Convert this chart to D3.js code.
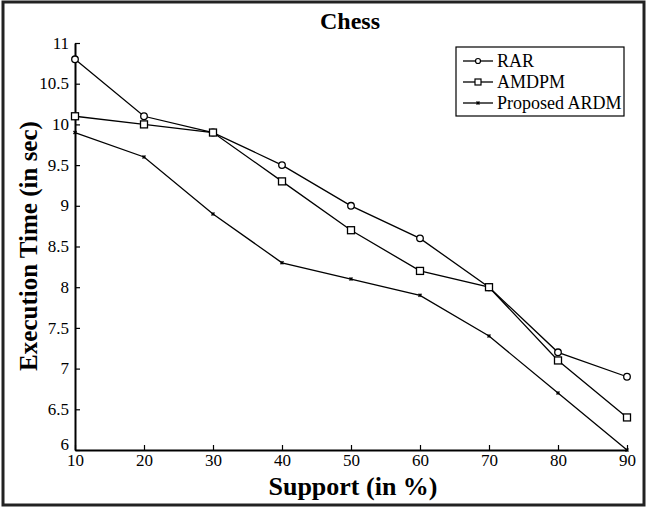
<!DOCTYPE html>
<html>
<head>
<meta charset="utf-8">
<script src="https://cdn.jsdelivr.net/npm/d3@7"></script>
<style>
  body { margin: 0; background: #fff; }
  text { font-family: "Liberation Serif", "Times New Roman", serif; fill: #000; }
</style>
</head>
<body>
<svg id="chart" width="647" height="508"></svg>
<script>
// values
const support = [10, 20, 30, 40, 50, 60, 70, 80, 90];
const rar = [10.8, 10.1, 9.9, 9.5, 9.0, 8.6, 8.0, 7.2, 6.9];
const amdpm = [10.1, 10.0, 9.9, 9.3, 8.7, 8.2, 8.0, 7.1, 6.4];
const ardm = [9.9, 9.6, 8.9, 8.3, 8.1, 7.9, 7.4, 6.7, 6.0];
const yTicks = [6, 6.5, 7, 7.5, 8, 8.5, 9, 9.5, 10, 10.5, 11];
const seriesNames = ["RAR", "AMDPM", "Proposed ARDM"];

const svg = d3.select("#chart");

// outer frame
svg.append("rect")
    .attr("x", 3).attr("y", 2).attr("width", 641).attr("height", 503)
    .attr("fill", "none").attr("stroke", "#222").attr("stroke-width", 3);

const x = d3.scaleLinear().domain([10, 90]).range([75, 627]);
const y = d3.scaleLinear().domain([6, 11]).range([450, 43]);

// axes, MATLAB style ticks pointing inward
const xAxis = svg.append("g")
    .attr("transform", `translate(0,${y(6)})`)
    .call(d3.axisBottom(x).tickValues(support).tickSizeInner(-5).tickSizeOuter(0).tickPadding(4));
const yAxis = svg.append("g")
    .attr("transform", `translate(${x(10)},0)`)
    .call(d3.axisLeft(y).tickValues(yTicks).tickFormat(d => d).tickSizeInner(-5).tickSizeOuter(0).tickPadding(6));

[xAxis, yAxis].forEach(g => {
    g.attr("font-family", null);
    g.select(".domain").attr("stroke", "#000").attr("stroke-width", 2);
    g.selectAll(".tick line").attr("stroke", "#000").attr("stroke-width", 1.2);
    g.selectAll("text")
        .style("font-family", "'Liberation Serif', serif")
        .style("font-size", "17px");
});
// the bottom label sits a little higher, as in the original
yAxis.selectAll("text").attr("dy", d => d === 6 ? "-0.05em" : "0.3em");

const line = d3.line().x((d, i) => x(support[i])).y(d => y(d));

const all = [rar, amdpm, ardm];
all.forEach(vals => {
    svg.append("path")
        .datum(vals)
        .attr("d", line)
        .attr("fill", "none")
        .attr("stroke", "#000")
        .attr("stroke-width", 1.3);
});

// markers
svg.selectAll(".rar").data(rar).join("circle")
    .attr("class", "rar")
    .attr("cx", (d, i) => x(support[i])).attr("cy", d => y(d))
    .attr("r", 3.3).attr("fill", "#fff").attr("stroke", "#000").attr("stroke-width", 1.3);

svg.selectAll(".amdpm").data(amdpm).join("rect")
    .attr("class", "amdpm")
    .attr("x", (d, i) => x(support[i]) - 3.5).attr("y", d => y(d) - 3.5)
    .attr("width", 7).attr("height", 7)
    .attr("fill", "#fff").attr("stroke", "#000").attr("stroke-width", 1.3);

const star = d3.symbol().type(d3.symbolCross).size(10);
svg.selectAll(".ardm").data(ardm).join("path")
    .attr("class", "ardm")
    .attr("transform", (d, i) => `translate(${x(support[i])},${y(d)}) rotate(45)`)
    .attr("d", star).attr("fill", "#000");

// title and labels
svg.append("text")
    .attr("x", 350).attr("y", 29)
    .attr("text-anchor", "middle")
    .style("font-size", "24px").style("font-weight", "bold")
    .text("Chess");

svg.append("text")
    .attr("x", 353).attr("y", 495)
    .attr("text-anchor", "middle")
    .style("font-size", "26px").style("font-weight", "bold")
    .text("Support (in %)");

svg.append("text")
    .attr("transform", "translate(37,246) rotate(-90)")
    .attr("text-anchor", "middle")
    .style("font-size", "25px").style("font-weight", "bold")
    .text("Execution Time (in sec)");

// legend
const lg = svg.append("g").attr("transform", "translate(456,47)");
lg.append("rect")
    .attr("width", 168).attr("height", 69)
    .attr("fill", "#fff").attr("stroke", "#000").attr("stroke-width", 1.2);

seriesNames.forEach((name, i) => {
    const cy = 14 + i * 21;
    lg.append("line")
        .attr("x1", 7).attr("x2", 37).attr("y1", cy).attr("y2", cy)
        .attr("stroke", "#000").attr("stroke-width", 1.3);
    if (i === 0) {
        lg.append("circle").attr("cx", 22).attr("cy", cy).attr("r", 2.5)
            .attr("fill", "#fff").attr("stroke", "#000").attr("stroke-width", 1.2);
    } else if (i === 1) {
        lg.append("rect").attr("x", 19).attr("y", cy - 3).attr("width", 6).attr("height", 6)
            .attr("fill", "#fff").attr("stroke", "#000").attr("stroke-width", 1.2);
    } else {
        lg.append("path").attr("transform", `translate(22,${cy}) rotate(45)`)
            .attr("d", star).attr("fill", "#000");
    }
    lg.append("text")
        .attr("x", 41).attr("y", cy + 6)
        .style("font-size", "18px")
        .text(name);
});
</script>
</body>
</html>
